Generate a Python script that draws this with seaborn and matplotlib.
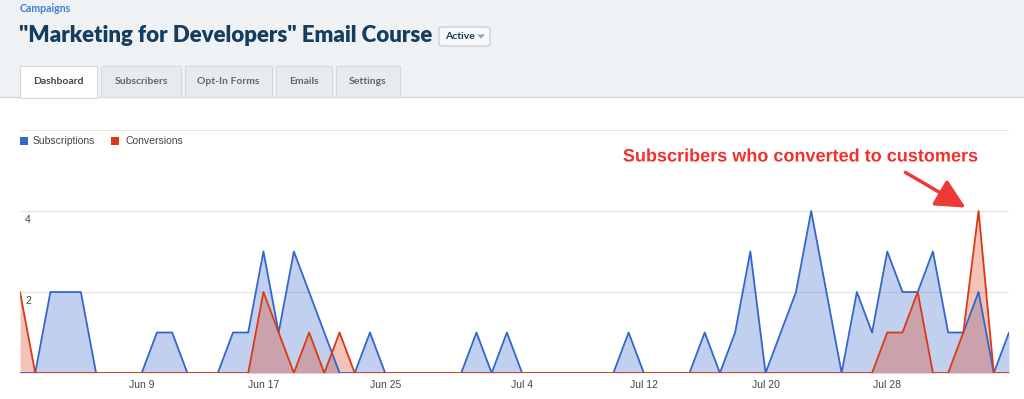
import matplotlib
matplotlib.use('Agg')
import matplotlib.pyplot as plt
import matplotlib.patheffects as pe
from matplotlib.patches import Rectangle, FancyBboxPatch, Polygon
import numpy as np
import pandas as pd
import seaborn as sns

# DATA

start_date = '2016-06-01'
subscriptions = [0, 0, 2, 2, 2, 0, 0, 0, 0, 1, 1, 0, 0, 0, 1, 1, 3, 1, 3, 2, 1, 0,
                 0, 1, 0, 0, 0, 0, 0, 0, 1, 0, 1, 0, 0, 0, 0, 0, 0, 0, 1, 0, 0, 0,
                 0, 1, 0, 1, 3, 0, 1, 2, 4, 2, 0, 2, 1, 3, 2, 2, 3, 1, 1, 2, 0, 1]
conversions = [2, 0, 0, 0, 0, 0, 0, 0, 0, 0, 0, 0, 0, 0, 0, 0, 2, 1, 0, 1, 0, 1,
               0, 0, 0, 0, 0, 0, 0, 0, 0, 0, 0, 0, 0, 0, 0, 0, 0, 0, 0, 0, 0, 0,
               0, 0, 0, 0, 0, 0, 0, 0, 0, 0, 0, 0, 0, 1, 1, 2, 0, 0, 1, 4, 0, 0]
tick_dates = ['2016-06-09', '2016-06-17', '2016-06-25', '2016-07-04',
              '2016-07-12', '2016-07-20', '2016-07-28']
tick_labels = ['Jun 9', 'Jun 17', 'Jun 25', 'Jul 4', 'Jul 12', 'Jul 20', 'Jul 28']
tabs = ['Dashboard', 'Subscribers', 'Opt-In Forms', 'Emails', 'Settings']

dates = pd.date_range(start_date, periods=len(subscriptions), freq='D')
df = pd.DataFrame({'Date': dates, 'Subscriptions': subscriptions, 'Conversions': conversions})

# STYLE

sns.set_theme(style='white')
plt.rcParams['font.family'] = ['Lato', 'DejaVu Sans']

W, H = 1024, 399
fig = plt.figure(figsize=(W / 100, H / 100), dpi=100)
fig.patch.set_facecolor('white')


def fx(x):
    return x / W


def fy(y):
    return 1 - y / H


# page header
fig.patches.append(Rectangle((0, fy(97)), 1, 97 / H, transform=fig.transFigure,
                             facecolor='#eff2f5', edgecolor='none', zorder=0))
fig.lines.append(plt.Line2D([0, 1], [fy(97), fy(97)], transform=fig.transFigure,
                            color='#d5d9de', lw=1, zorder=1))

fig.text(fx(20), fy(9), 'Campaigns', color='#3f80d4', fontsize=7.6, fontweight='bold',
         ha='left', va='center')
fig.text(fx(19), fy(35), '"Marketing for Developers" Email Course', color='#163c5e',
         fontsize=16, fontweight='heavy', ha='left', va='center')

# "Active" button
fig.patches.append(FancyBboxPatch((fx(439), fy(46)), 51 / W, 19 / H,
                                  boxstyle='round,pad=0,rounding_size=0.004',
                                  transform=fig.transFigure, facecolor='#f7f8fa',
                                  edgecolor='#c3c8ce', lw=0.8, zorder=2))
fig.text(fx(445), fy(36.5), 'Active', color='#163c5e', fontsize=7.5, fontweight='bold',
         ha='left', va='center', zorder=3)
fig.patches.append(Polygon([(fx(477), fy(34.5)), (fx(485), fy(34.5)), (fx(481), fy(38.5))],
                           closed=True, transform=fig.transFigure, facecolor='#9aa1a9',
                           edgecolor='none', zorder=3))

# tabs
tab_x = [(20, 97), (101, 181), (185, 272), (276, 332), (336, 400)]
for i, (name, (x0, x1)) in enumerate(zip(tabs, tab_x)):
    active = i == 0
    fig.patches.append(Rectangle((fx(x0), fy(98 if active else 97)), (x1 - x0) / W,
                                 (32 if active else 31) / H, transform=fig.transFigure,
                                 facecolor='white' if active else '#e8ebee',
                                 edgecolor='#d5d9de', lw=0.8, zorder=2))
    fig.text(fx((x0 + x1) / 2), fy(81), name, color='#444' if active else '#666',
             fontsize=7.5, fontweight='bold', ha='center', va='center', zorder=3)

# CHART

ax = fig.add_axes([fx(20), fy(373), (1009 - 20) / W, (373 - 130) / H])
ax.set_facecolor('none')

blue = '#3366cc'
red = '#dc3912'

ax.fill_between(df['Date'], df['Subscriptions'], color=blue, alpha=0.3, lw=0, zorder=2)
ax.fill_between(df['Date'], df['Conversions'], color=red, alpha=0.3, lw=0, zorder=3)
sns.lineplot(data=df, x='Date', y='Subscriptions', ax=ax, color=blue, lw=1.3, zorder=4)
sns.lineplot(data=df, x='Date', y='Conversions', ax=ax, color=red, lw=1.3, zorder=5)

ax.set_xlim(dates[0], dates[-1])
ax.set_ylim(0, 6)
ax.set_yticks([2, 4, 6])
ax.yaxis.grid(True, color='#e6e6e6', lw=1)
ax.set_axisbelow(True)
ax.set_yticklabels([])
ax.tick_params(axis='y', length=0)
for v in [2, 4]:
    ax.text(0.005, v - 0.1, str(v), transform=ax.get_yaxis_transform(), ha='left', va='top',
            color='#444', fontsize=7.5, family=['Liberation Sans'], zorder=6)

ax.set_xticks(pd.to_datetime(tick_dates))
ax.set_xticklabels(tick_labels, color='#444', fontsize=7.5, family=['Liberation Sans'])
ax.tick_params(axis='x', length=0, pad=5)
ax.set_xlabel('')
ax.set_ylabel('')
for s in ax.spines.values():
    s.set_visible(False)

# legend
fig.patches.append(Rectangle((fx(20), fy(145)), 8 / W, 8 / H, transform=fig.transFigure,
                             facecolor=blue, edgecolor='none'))
fig.text(fx(33), fy(141), 'Subscriptions', color='#444', fontsize=7.5,
         family=['Liberation Sans'], ha='left', va='center')
fig.patches.append(Rectangle((fx(111), fy(145)), 8 / W, 8 / H, transform=fig.transFigure,
                             facecolor=red, edgecolor='none'))
fig.text(fx(125), fy(141), 'Conversions', color='#444', fontsize=7.5,
         family=['Liberation Sans'], ha='left', va='center')

# annotation
fig.text(fx(800), fy(157), 'Subscribers who converted to customers', color='#f2302f',
         fontsize=13, fontweight='bold', family=['Liberation Sans'], ha='center', va='center',
         path_effects=[pe.withStroke(linewidth=3, foreground='white')], zorder=10)
ax.annotate('', xy=(fx(968), fy(209)), xycoords='figure fraction',
            xytext=(fx(903), fy(171)), textcoords='figure fraction',
            arrowprops=dict(arrowstyle='-|>,head_length=1.5,head_width=0.75',
                            color='#ec3a35', lw=2.5), zorder=10)

fig.savefig('out.png', dpi=100)
